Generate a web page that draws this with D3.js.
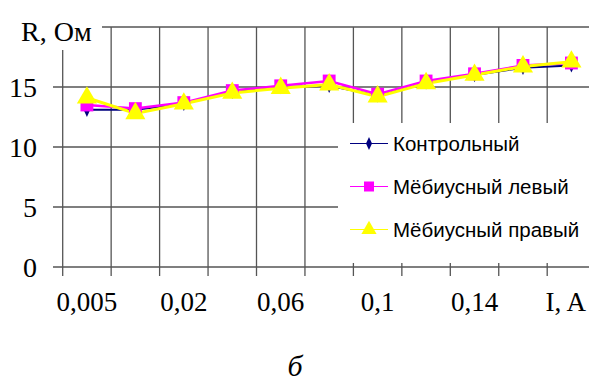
<!DOCTYPE html>
<html><head><meta charset="utf-8">
<script src="https://cdn.jsdelivr.net/npm/d3@7"></script>
<style>body{margin:0;background:#fff}svg{display:block}</style>
</head><body>
<script>
const categories = ["0,005","0,01","0,02","0,04","0,06","0,08","0,1","0,12","0,14","0,16","0,18"];
const seriesNames = ["Контрольный","Мёбиусный левый","Мёбиусный правый"];
const control = [13.1,13.1,13.6,14.6,15.0,15.1,14.3,15.4,16.0,16.6,16.8];
const mobiusLeft = [13.5,13.2,13.7,14.7,15.1,15.5,14.4,15.5,16.1,16.8,17.0];
const mobiusRight = [14.1,12.8,13.6,14.5,14.9,15.2,14.2,15.3,16.0,16.7,17.1];
const yTicks = [0,5,10,15,20];
const yTitle = "R, Ом", xTitle = "I, A", caption = "б";

const W = 589, H = 381;
const svg = d3.select("body").append("svg").attr("width", W).attr("height", H);
const x = d3.scaleBand().domain(categories).range([62.7, 62.7 + 11*48.45]).padding(0);
const y = d3.scaleLinear().domain([0,20]).range([267,27]);
const gridCol = "#555";
const serif = "'Liberation Serif','Times New Roman',serif";
const sans = "'Liberation Sans',Arial,sans-serif";

// horizontal gridlines
svg.append("g").selectAll("line").data(yTicks).join("line")
  .attr("x1", 53).attr("x2", x.range()[1]).attr("y1", d=>y(d)).attr("y2", d=>y(d))
  .attr("stroke", gridCol).attr("stroke-width", 1.3);
// vertical gridlines at band boundaries
const bounds = categories.map(c => x(c)).concat([x.range()[1]]);
svg.append("g").selectAll("line").data(bounds).join("line")
  .attr("x1", d=>d).attr("x2", d=>d).attr("y1", y(20)).attr("y2", y(0) + 9)
  .attr("stroke", gridCol).attr("stroke-width", 1.3);

// y labels
svg.append("g").selectAll("text").data(yTicks.slice(0,4)).join("text")
  .attr("x", 37).attr("y", d=>y(d)).attr("dy", "0.35em").attr("text-anchor","end")
  .attr("font-family", serif).attr("font-size", 28).attr("fill","#000").text(d=>d);

// x labels
svg.append("g").selectAll("text").data(categories.filter((c,i)=>i%2===0 && i<10)).join("text")
  .attr("x", d=>x(d)+x.bandwidth()/2).attr("y", 311).attr("text-anchor","middle")
  .attr("font-family", serif).attr("font-size", 27).attr("fill","#000").text(d=>d);

// series
const series = [
  {name: seriesNames[0], values: control, color: "#000080", w: 2, shape: d3.symbolDiamond, size: 60},
  {name: seriesNames[1], values: mobiusLeft, color: "#ff00ff", w: 2.5, shape: d3.symbolSquare, size: 165},
  {name: seriesNames[2], values: mobiusRight, color: "#ffff00", w: 3, shape: d3.symbolTriangle, size: 175}
];
const cx = (i) => x(categories[i]) + x.bandwidth()/2;
series.forEach(s => {
  const line = d3.line().x((d,i)=>cx(i)).y(d=>y(d));
  svg.append("path").attr("d", line(s.values)).attr("fill","none")
    .attr("stroke", s.color).attr("stroke-width", s.w);
});
series.forEach(s => {
  svg.append("g").selectAll("path").data(s.values).join("path")
    .attr("d", d3.symbol().type(s.shape).size(s.size))
    .attr("transform", (d,i)=>`translate(${cx(i)},${y(d)})${s.shape===d3.symbolDiamond?" scale(0.8,1)":""}`)
    .attr("fill", s.color);
});

// legend
svg.append("rect").attr("x",338).attr("y",123).attr("width",260).attr("height",140).attr("fill","#fff");
const lg = svg.append("g");
series.forEach((s,i) => {
  const ly = 143.5 + i*43;
  lg.append("line").attr("x1",350).attr("x2",388).attr("y1",ly).attr("y2",ly).attr("stroke",s.color).attr("stroke-width",1.2);
  lg.append("path").attr("d", d3.symbol().type(s.shape).size(s.shape===d3.symbolDiamond?50:100))
    .attr("transform", `translate(369,${ly})${s.shape===d3.symbolDiamond?" scale(0.8,1)":""}`).attr("fill", s.color);
  lg.append("text").attr("x",393).attr("y",ly).attr("dy","0.35em")
    .attr("font-family", sans).attr("font-size",20.5).attr("fill","#000").text(s.name);
});

// y title with white box
svg.append("rect").attr("x",0).attr("y",0).attr("width",102).attr("height",50).attr("fill","#fff");
svg.append("text").attr("x",21).attr("y",41).attr("font-family",serif).attr("font-size",28).attr("fill","#000").text(yTitle);
// x title
svg.append("text").attr("x",586).attr("y",311).attr("text-anchor","end").attr("font-family",serif).attr("font-size",27).attr("fill","#000").text(xTitle);
// caption
svg.append("text").attr("x",295).attr("y",376).attr("text-anchor","middle").attr("font-family",serif)
  .attr("font-style","italic").attr("font-size",30).attr("fill","#000").text(caption);
</script>
</body></html>
